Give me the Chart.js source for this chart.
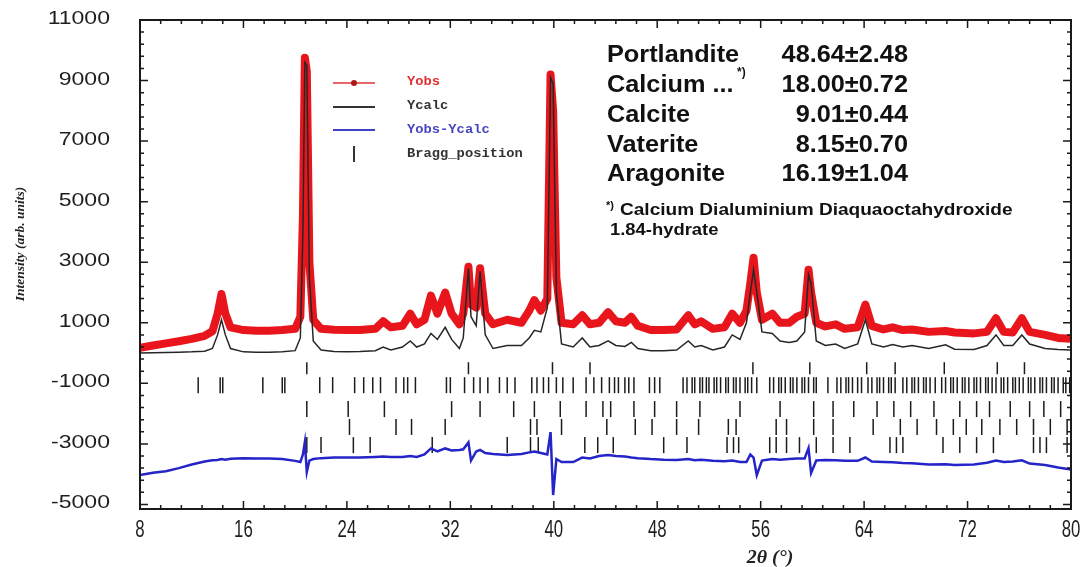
<!DOCTYPE html>
<html>
<head>
<meta charset="utf-8">
<title>Rietveld refinement</title>
<script src="https://cdn.jsdelivr.net/npm/chart.js@4.4.1/dist/chart.umd.min.js"></script>
<style>
  html, body { margin: 0; padding: 0; background: #ffffff; }
  #c { display: block; }
</style>
</head>
<body>
<canvas id="c" width="1087" height="567"></canvas>
<script>
// Diffraction pattern: 2θ (°) and intensities (arb. units)
const twoTheta = [8.0, 9.0, 10.0, 11.0, 12.0, 13.0, 13.6, 14.0, 14.3, 14.6, 15.0, 16.0, 17.0, 18.0, 19.0, 20.0, 20.4, 20.6, 20.75, 20.9, 21.1, 21.4, 22.0, 23.0, 24.0, 25.0, 26.2, 26.8, 27.4, 28.3, 28.9, 29.4, 30.0, 30.5, 31.0, 31.6, 32.1, 32.7, 33.0, 33.4, 33.6, 34.0, 34.3, 34.7, 35.3, 36.4, 37.5, 38.1, 38.5, 39.0, 39.5, 39.75, 39.95, 40.2, 40.6, 41.5, 42.2, 42.8, 43.5, 44.2, 44.8, 45.5, 46.0, 46.5, 47.5, 48.5, 49.5, 50.4, 50.9, 51.4, 52.3, 53.2, 53.8, 54.4, 54.9, 55.2, 55.45, 55.7, 56.1, 56.9, 57.5, 58.2, 58.8, 59.4, 59.7, 59.9, 60.3, 61.0, 61.8, 62.5, 63.5, 64.1, 64.6, 65.5, 66.2, 67.0, 67.7, 69.0, 70.3, 71.0, 72.5, 73.5, 74.2, 74.8, 75.5, 76.2, 76.8, 78.0, 79.0, 80.0];
const yObs = [170, 250, 320, 390, 470, 570, 720, 1300, 1950, 1300, 850, 760, 740, 740, 760, 800, 1200, 4500, 9750, 9300, 3000, 1100, 800, 770, 760, 760, 800, 1050, 850, 900, 1300, 950, 1100, 1900, 1300, 2000, 1300, 950, 1300, 2850, 1600, 1500, 2800, 1300, 950, 1100, 1000, 1400, 1750, 1400, 1800, 9200, 8000, 2500, 1000, 950, 1250, 950, 1000, 1350, 1050, 1000, 1200, 900, 760, 760, 780, 1250, 950, 1050, 800, 850, 1300, 1000, 1400, 2300, 3150, 2000, 1100, 1300, 1000, 1000, 1200, 1300, 2750, 2000, 1000, 880, 950, 800, 850, 1600, 900, 780, 850, 760, 780, 700, 730, 680, 650, 700, 1150, 700, 680, 1150, 700, 600, 500, 470];
const yCalc = [0, 10, 20, 30, 40, 60, 150, 600, 1100, 600, 150, 40, 30, 30, 40, 80, 500, 4000, 9600, 9500, 2500, 400, 100, 50, 40, 50, 80, 200, 100, 200, 400, 200, 300, 650, 450, 850, 450, 150, 500, 2800, 1200, 900, 2700, 600, 150, 250, 250, 500, 750, 700, 1500, 9100, 8900, 2000, 300, 200, 500, 200, 250, 400, 250, 220, 350, 150, 80, 80, 100, 400, 200, 250, 100, 200, 600, 450, 1000, 2000, 2750, 2000, 700, 650, 400, 350, 400, 700, 2600, 2300, 400, 250, 300, 150, 300, 1100, 300, 200, 280, 200, 250, 150, 270, 130, 120, 250, 600, 250, 250, 600, 300, 150, 120, 100];
const yDiff = [-4030, -3950, -3900, -3800, -3680, -3580, -3540, -3530, -3500, -3520, -3490, -3470, -3480, -3480, -3500, -3560, -3600, -3350, -2940, -3930, -3550, -3500, -3470, -3450, -3450, -3450, -3430, -3420, -3430, -3430, -3400, -3430, -3350, -3150, -3250, -3150, -3220, -3200, -3180, -2950, -3550, -3250, -3200, -3300, -3330, -3370, -3330, -3280, -3250, -3300, -3350, -2610, -4690, -3500, -3600, -3600, -3450, -3480, -3400, -3370, -3400, -3420, -3450, -3470, -3500, -3520, -3530, -3500, -3540, -3520, -3560, -3570, -3550, -3600, -3600, -3350, -3450, -4030, -3550, -3500, -3520, -3500, -3480, -3480, -3140, -3960, -3550, -3530, -3540, -3560, -3560, -3450, -3580, -3600, -3610, -3630, -3640, -3680, -3670, -3700, -3680, -3620, -3550, -3600, -3580, -3540, -3650, -3700, -3780, -3850];

// Bragg reflection positions (2θ) for each refined phase
const braggPortlandite = [20.9, 33.4, 39.9, 42.8, 55.4, 59.8, 64.2, 66.4, 70.2, 74.3, 76.4];
const braggCaAlHydrate = [12.5, 14.2, 14.4, 17.5, 19.0, 19.2, 21.9, 22.9, 24.6, 25.3, 26.0, 26.6, 27.8, 28.4, 28.7, 29.3, 31.7, 32.0, 33.1, 33.8, 34.3, 34.9, 35.8, 36.4, 37.0, 38.3, 38.7, 39.2, 39.6, 40.2, 40.7, 41.5, 42.5, 43.1, 43.7, 44.3, 44.7, 45.0, 45.5, 45.8, 46.2, 47.4, 47.8, 48.2, 50.0, 50.3, 50.7, 50.9, 51.3, 51.5, 51.8, 52.0, 52.4, 52.6, 52.9, 53.3, 53.5, 53.9, 54.1, 54.4, 54.8, 55.0, 55.3, 55.7, 56.7, 57.0, 57.4, 57.6, 57.9, 58.3, 58.5, 58.8, 59.2, 59.4, 59.7, 60.1, 60.3, 61.2, 61.9, 62.2, 62.6, 62.8, 63.1, 63.5, 63.8, 64.3, 64.6, 65.0, 65.2, 65.5, 65.9, 66.1, 66.4, 67.0, 67.3, 67.7, 67.9, 68.2, 68.6, 68.8, 69.1, 69.5, 70.0, 70.3, 70.7, 70.9, 71.2, 71.6, 71.8, 72.1, 72.5, 72.7, 73.0, 73.4, 73.6, 73.9, 74.2, 74.6, 74.8, 75.1, 75.5, 75.7, 76.0, 76.3, 76.7, 76.9, 77.2, 77.6, 77.8, 78.1, 78.5, 78.7, 79.0, 79.4, 79.6, 79.9];
const braggCalcite = [20.9, 24.1, 26.9, 32.1, 34.3, 36.9, 38.5, 40.5, 42.5, 43.8, 44.4, 46.2, 47.8, 49.5, 51.3, 54.4, 57.5, 60.1, 61.6, 63.2, 65.0, 66.3, 67.6, 69.4, 71.4, 72.7, 73.7, 75.3, 76.8, 77.9, 79.2];
const braggVaterite = [24.2, 27.8, 29.0, 31.6, 38.2, 38.7, 40.6, 44.1, 46.3, 47.6, 49.5, 51.2, 53.5, 54.1, 57.2, 58.0, 60.1, 61.6, 64.7, 66.8, 68.1, 69.6, 70.9, 71.9, 73.1, 74.5, 75.8, 77.1, 78.4, 79.7];
const braggAragonite = [20.9, 22.0, 24.5, 25.8, 30.6, 36.4, 38.2, 38.8, 42.4, 43.4, 44.6, 48.5, 50.3, 53.4, 53.9, 54.3, 56.7, 57.2, 58.0, 59.0, 60.3, 61.6, 62.9, 66.0, 66.5, 67.0, 70.1, 71.4, 72.7, 74.0, 77.1, 77.6, 78.1, 79.7];
// Intensity level at which each phase's reflection markers sit
const braggLevels = [-500, -1060, -1850, -2440, -3040];

// Phase quantification (wt.%)
const phaseNames = ['Portlandite', 'Calcium ...', 'Calcite', 'Vaterite', 'Aragonite'];
const phaseFractions = ['48.64\u00b12.48', '18.00\u00b10.72', '9.01\u00b10.44', '8.15\u00b10.70', '16.19\u00b11.04'];

// Axis ticks
const xTickLabels = [8, 16, 24, 32, 40, 48, 56, 64, 72, 80];
const yTickLabels = [-5000, -3000, -1000, 1000, 3000, 5000, 7000, 9000, 11000];

const toPoints = (xs, ys) => xs.map((x, i) => ({ x: x, y: ys[i] }));
const toMarks = (xs, level) => xs.map(x => ({ x: x, y: level }));

const braggSets = [braggPortlandite, braggCaAlHydrate, braggCalcite, braggVaterite, braggAragonite];

function text(ctx, str, x, y, font, color, align, sx, baseline) {
  ctx.save();
  ctx.translate(x, y);
  ctx.scale(sx || 1, 1);
  ctx.font = font;
  ctx.fillStyle = color;
  ctx.textAlign = align || 'left';
  ctx.textBaseline = baseline || 'alphabetic';
  ctx.fillText(str, 0, 0);
  ctx.restore();
}

// Frame, inward ticks, labels, legend and phase table
const decorations = {
  id: 'decorations',
  afterDraw(chart) {
    const ctx = chart.ctx;
    const xs = chart.scales.x, ys = chart.scales.y;
    const a = chart.chartArea;
    ctx.save();

    // frame
    ctx.strokeStyle = '#1a1a1a';
    ctx.lineWidth = 2;
    ctx.strokeRect(a.left, a.top, a.right - a.left, a.bottom - a.top);

    // inward ticks on all four sides
    ctx.lineWidth = 1.5;
    const majorLen = 8, minorLen = 4;
    const xStep = xTickLabels[1] - xTickLabels[0];
    for (let v = xTickLabels[0]; v <= xTickLabels[xTickLabels.length - 1] + 1e-9; v += xStep / 5) {
      const px = xs.getPixelForValue(v);
      const isMajor = Math.abs((v - xTickLabels[0]) / xStep - Math.round((v - xTickLabels[0]) / xStep)) < 1e-6;
      const len = isMajor ? majorLen : minorLen;
      ctx.beginPath();
      ctx.moveTo(px, a.bottom); ctx.lineTo(px, a.bottom - len);
      ctx.moveTo(px, a.top); ctx.lineTo(px, a.top + len);
      ctx.stroke();
    }
    const yStep = yTickLabels[1] - yTickLabels[0];
    for (let v = yTickLabels[0]; v <= yTickLabels[yTickLabels.length - 1] + 1e-9; v += yStep / 5) {
      const py = ys.getPixelForValue(v);
      const isMajor = Math.abs((v - yTickLabels[0]) / yStep - Math.round((v - yTickLabels[0]) / yStep)) < 1e-6;
      const len = isMajor ? majorLen : minorLen;
      ctx.beginPath();
      ctx.moveTo(a.left, py); ctx.lineTo(a.left + len, py);
      ctx.moveTo(a.right, py); ctx.lineTo(a.right - len, py);
      ctx.stroke();
    }

    // tick labels
    xTickLabels.forEach(v => {
      text(ctx, String(v), xs.getPixelForValue(v), 537, '24px "Liberation Sans"', '#1e1e1e', 'center', 0.7);
    });
    yTickLabels.forEach(v => {
      text(ctx, String(v), 110, ys.getPixelForValue(v) - 1, '18px "Liberation Sans"', '#1e1e1e', 'right', 1.28, 'middle');
    });

    // axis titles
    text(ctx, '2\u03b8 (\u00b0)', 770, 563, 'italic bold 19px "Liberation Serif"', '#222', 'center', 1.05);
    ctx.save();
    ctx.translate(24, 244);
    ctx.rotate(-Math.PI / 2);
    text(ctx, 'Intensity (arb. units)', 0, 0, 'italic bold 13.5px "Liberation Serif"', '#222', 'center', 1);
    ctx.restore();

    // legend
    const lx0 = 333, lx1 = 375, tx = 407;
    const mono = 'bold 13px "Liberation Mono"';
    ctx.lineWidth = 2;
    ctx.strokeStyle = '#e8676a';
    ctx.beginPath(); ctx.moveTo(lx0, 83); ctx.lineTo(lx1, 83); ctx.stroke();
    ctx.fillStyle = '#b01818';
    ctx.beginPath(); ctx.arc(354, 83, 3, 0, Math.PI * 2); ctx.fill();
    text(ctx, 'Yobs', tx, 85, mono, '#e03030', 'left', 1.06);
    ctx.strokeStyle = '#333';
    ctx.beginPath(); ctx.moveTo(lx0, 107); ctx.lineTo(lx1, 107); ctx.stroke();
    text(ctx, 'Ycalc', tx, 109, mono, '#333', 'left', 1.06);
    ctx.strokeStyle = '#4040c8';
    ctx.beginPath(); ctx.moveTo(lx0, 130); ctx.lineTo(lx1, 130); ctx.stroke();
    text(ctx, 'Yobs-Ycalc', tx, 133, mono, '#4646c0', 'left', 1.06);
    ctx.strokeStyle = '#333';
    ctx.beginPath(); ctx.moveTo(354, 146); ctx.lineTo(354, 162); ctx.stroke();
    text(ctx, 'Bragg_position', tx, 157, mono, '#333', 'left', 1.06);

    // phase table
    const big = 'bold 23px "Liberation Sans"';
    const rows = [62, 92, 122, 152, 181];
    phaseNames.forEach((n, i) => {
      text(ctx, n, 607, rows[i], big, '#111', 'left', 1.1);
      text(ctx, phaseFractions[i], 908, rows[i], big, '#111', 'right', 1.1);
    });
    text(ctx, '*)', 737, 76, 'bold 12px "Liberation Sans"', '#111', 'left', 1);
    text(ctx, '*)', 606, 209, 'bold 11px "Liberation Sans"', '#111', 'left', 1);
    text(ctx, 'Calcium Dialuminium Diaquaoctahydroxide', 620, 215, 'bold 16px "Liberation Sans"', '#111', 'left', 1.19);
    text(ctx, '1.84-hydrate', 610, 235, 'bold 16px "Liberation Sans"', '#111', 'left', 1.15);

    ctx.restore();
  }
};

const datasets = [
  {
    label: 'Ycalc', data: toPoints(twoTheta, yCalc), showLine: true,
    borderColor: '#262626', borderWidth: 1.5, pointRadius: 0, order: 0
  },
  {
    label: 'Yobs', data: toPoints(twoTheta, yObs), showLine: true,
    borderColor: '#e8161c', borderWidth: 8, pointRadius: 0, order: 1,
    borderJoinStyle: 'round', borderCapStyle: 'round'
  },
  {
    label: 'Yobs-Ycalc', data: toPoints(twoTheta, yDiff), showLine: true,
    borderColor: '#2424c8', borderWidth: 2.5, pointRadius: 0, order: 2
  }
];
braggSets.forEach((set, i) => {
  datasets.push({
    label: 'Bragg_position ' + (i + 1), data: toMarks(set, braggLevels[i]), showLine: false,
    pointStyle: 'line', rotation: 90, pointRadius: i === 0 ? 6 : 8,
    pointBorderColor: '#1c1c1c', pointBorderWidth: 1.5, order: 3
  });
});

new Chart(document.getElementById('c'), {
  type: 'scatter',
  data: { datasets: datasets },
  options: {
    responsive: false,
    animation: false,
    devicePixelRatio: 1,
    layout: { padding: { left: 140, right: 16, top: 20, bottom: 58 } },
    plugins: { legend: { display: false }, tooltip: { enabled: false } },
    scales: {
      x: { type: 'linear', min: 8, max: 80, display: false },
      y: { type: 'linear', min: -5150, max: 11000, display: false }
    }
  },
  plugins: [decorations]
});
</script>
</body>
</html>
